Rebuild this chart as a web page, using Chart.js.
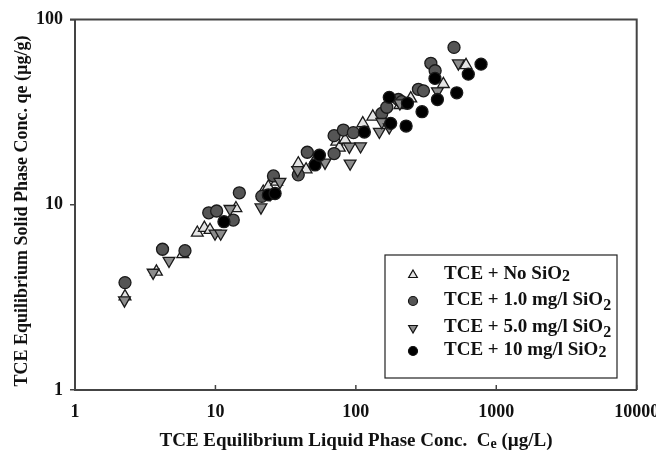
<!DOCTYPE html>
<html>
<head>
<meta charset="utf-8">
<script src="https://cdn.jsdelivr.net/npm/chart.js@4.4.1/dist/chart.umd.min.js"></script>
<style>
html,body{margin:0;padding:0;background:#fff;}
#c{display:block;}
</style>
</head>
<body>
<canvas id="c" width="656" height="453"></canvas>
<script>
// ---- data (Ce in µg/L, qe in µg/g) ----
const seriesNames = ["TCE + No SiO", "TCE + 1.0 mg/l SiO", "TCE + 5.0 mg/l SiO", "TCE + 10 mg/l SiO"];
const noSiO2_Ce = [2.27, 3.8, 5.85, 7.43, 8.34, 9.15, 14, 21.9, 23.8, 27.3, 38.9, 44.2, 51.2, 73.1, 76.3, 83.8, 112, 132, 206, 246, 420, 609];
const noSiO2_qe = [3.2, 4.35, 5.4, 7.06, 7.5, 7.3, 9.57, 11.75, 12.5, 13.3, 16.7, 15.5, 17.4, 21.9, 20.3, 22.4, 27.5, 29.9, 34.5, 37.5, 44.8, 56.7];
const si1_Ce = [2.27, 4.2, 6.07, 8.96, 10.2, 13.4, 14.8, 21.4, 25.9, 38.9, 45.1, 70, 70, 81.5, 96, 153, 166, 201, 212, 279, 303, 342, 367, 500];
const si1_qe = [3.8, 5.75, 5.65, 9.05, 9.25, 8.27, 11.6, 11.1, 14.3, 14.5, 19.2, 23.6, 18.9, 25.3, 24.5, 31.1, 33.6, 37, 36, 42, 41.2, 58, 52.9, 70.7];
const si5_Ce = [2.25, 3.6, 4.67, 9.93, 10.9, 12.7, 21.1, 24.5, 28.8, 38.5, 60.3, 89.9, 91, 108, 147, 153, 173, 206, 381, 537];
const si5_qe = [3.05, 4.3, 4.99, 7.0, 7.0, 9.5, 9.68, 11.4, 13.3, 15.4, 16.9, 20.6, 16.7, 20.7, 24.8, 28, 26.2, 35.3, 41, 58];
const si10_Ce = [11.5, 23.8, 26.6, 51.2, 55, 115, 173, 177, 228, 233, 296, 366, 381, 523, 632, 779];
const si10_qe = [8.1, 11.3, 11.5, 16.4, 18.5, 24.7, 38, 27.5, 26.6, 35.3, 31.8, 48.1, 37, 40.2, 50.7, 57.4];
const xTicks = [1, 10, 100, 1000, 10000];
const yTicks = [1, 10, 100];

const pts = (xs, ys) => xs.map((x, i) => ({x: x, y: ys[i]}));
const SERIF = '"Liberation Serif", "Times New Roman", serif';

const styles = [
  {pointStyle: 'triangle', rot: 0, bg: '#e4e4e4', r: 6.8},
  {pointStyle: 'circle', rot: 0, bg: '#555555', r: 6},
  {pointStyle: 'triangle', rot: 180, bg: '#8c8c8c', r: 6.8},
  {pointStyle: 'circle', rot: 0, bg: '#000000', r: 6}
];
const dataSets = [pts(noSiO2_Ce, noSiO2_qe), pts(si1_Ce, si1_qe), pts(si5_Ce, si5_qe), pts(si10_Ce, si10_qe)];

const decor = {
  id: 'decor',
  afterDraw(chart) {
    const ctx = chart.ctx, a = chart.chartArea, xs = chart.scales.x;
    ctx.save();
    // top and right frame
    ctx.strokeStyle = '#444'; ctx.lineWidth = 2;
    ctx.beginPath();
    ctx.moveTo(a.left - 5, a.top); ctx.lineTo(a.right, a.top); ctx.lineTo(a.right, a.bottom);
    ctx.stroke();
    // inward x ticks
    ctx.lineWidth = 1.5;
    xTicks.forEach(v => {
      const px = xs.getPixelForValue(v);
      ctx.beginPath(); ctx.moveTo(px, a.bottom); ctx.lineTo(px, a.bottom - 5); ctx.stroke();
    });
    // legend
    const lx = 385, ly = 255, lw = 232, lh = 123;
    ctx.fillStyle = '#fff';
    ctx.fillRect(lx, ly, lw, lh);
    ctx.strokeStyle = '#222'; ctx.lineWidth = 1.2;
    ctx.strokeRect(lx, ly, lw, lh);
    const rows = [274, 300, 327, 350];
    ctx.textBaseline = 'middle';
    seriesNames.forEach((name, i) => {
      const s = styles[i];
      ctx.fillStyle = s.bg; ctx.strokeStyle = '#111'; ctx.lineWidth = 1.2;
      Chart.helpers.drawPoint(ctx, {pointStyle: s.pointStyle, rotation: s.rot, borderWidth: 1.2,
        radius: s.pointStyle === 'circle' ? 4.5 : 5}, 413, rows[i] + 1);
      ctx.fillStyle = '#111';
      ctx.font = 'bold 19px ' + SERIF;
      ctx.textAlign = 'left';
      ctx.fillText(name, 444, rows[i]);
      const w = ctx.measureText(name).width;
      ctx.font = 'bold 16px ' + SERIF;
      ctx.fillText('2', 444 + w, rows[i] + (i === 0 || i === 3 ? 3 : 6));
    });
    // x axis title with subscript
    ctx.fillStyle = '#111';
    ctx.textBaseline = 'alphabetic';
    const t1 = 'TCE Equilibrium Liquid Phase Conc.  C', t2 = 'e', t3 = ' (\u00b5g/L)';
    ctx.font = 'bold 19px ' + SERIF;
    const w1 = ctx.measureText(t1).width, w3 = ctx.measureText(t3).width;
    ctx.font = 'bold 14px ' + SERIF;
    const w2 = ctx.measureText(t2).width;
    let sx = 356 - (w1 + w2 + w3) / 2;
    const by = 446;
    ctx.textAlign = 'left';
    ctx.font = 'bold 19px ' + SERIF; ctx.fillText(t1, sx, by);
    ctx.font = 'bold 14px ' + SERIF; ctx.fillText(t2, sx + w1, by + 2);
    ctx.font = 'bold 19px ' + SERIF; ctx.fillText(t3, sx + w1 + w2, by);
    // y axis title
    ctx.translate(27, 211);
    ctx.rotate(-Math.PI / 2);
    ctx.textAlign = 'center';
    ctx.font = 'bold 18px ' + SERIF;
    ctx.fillText('TCE Equilibrium Solid Phase Conc. qe (\u00b5g/g)', 0, 0);
    ctx.restore();
  }
};

new Chart(document.getElementById('c'), {
  type: 'scatter',
  data: {
    datasets: dataSets.map((d, i) => ({
      label: seriesNames[i] + '2',
      data: d,
      pointStyle: styles[i].pointStyle,
      rotation: styles[i].rot,
      pointRadius: styles[i].r,
      pointHoverRadius: styles[i].r,
      backgroundColor: styles[i].bg,
      pointBackgroundColor: styles[i].bg,
      borderColor: '#1a1a1a',
      pointBorderColor: '#1a1a1a',
      borderWidth: 1.3,
      pointBorderWidth: 1.3
    })).reverse()
  },
  options: {
    responsive: false,
    animation: false,
    events: [],
    layout: {padding: {top: 19.5, right: 19.3, left: 0, bottom: 0}},
    plugins: {legend: {display: false}, tooltip: {enabled: false}},
    scales: {
      x: {
        type: 'logarithmic', min: 1, max: 10000,
        afterBuildTicks: s => { s.ticks = xTicks.map(v => ({value: v})); },
        afterFit: s => { s.height = 63; s.paddingLeft = 0; s.paddingRight = 0; },
        grid: {drawOnChartArea: false, drawTicks: false},
        border: {display: true, color: '#444', width: 2},
        ticks: {padding: 12, color: '#111', font: {family: SERIF, size: 18, weight: 'bold'}, maxRotation: 0, autoSkip: false,
          callback: v => String(v)}
      },
      y: {
        type: 'logarithmic', min: 1, max: 100,
        afterBuildTicks: s => { s.ticks = yTicks.map(v => ({value: v})); },
        afterFit: s => { s.width = 75; s.paddingTop = 0; s.paddingBottom = 0; },
        grid: {drawOnChartArea: false, drawTicks: true, tickLength: 5, color: '#444', lineWidth: 1.5},
        border: {display: true, color: '#444', width: 2},
        ticks: {padding: 7, color: '#111', font: {family: SERIF, size: 18, weight: 'bold'}, autoSkip: false,
          callback: v => String(v)}
      }
    }
  },
  plugins: [decor]
});
</script>
</body>
</html>
